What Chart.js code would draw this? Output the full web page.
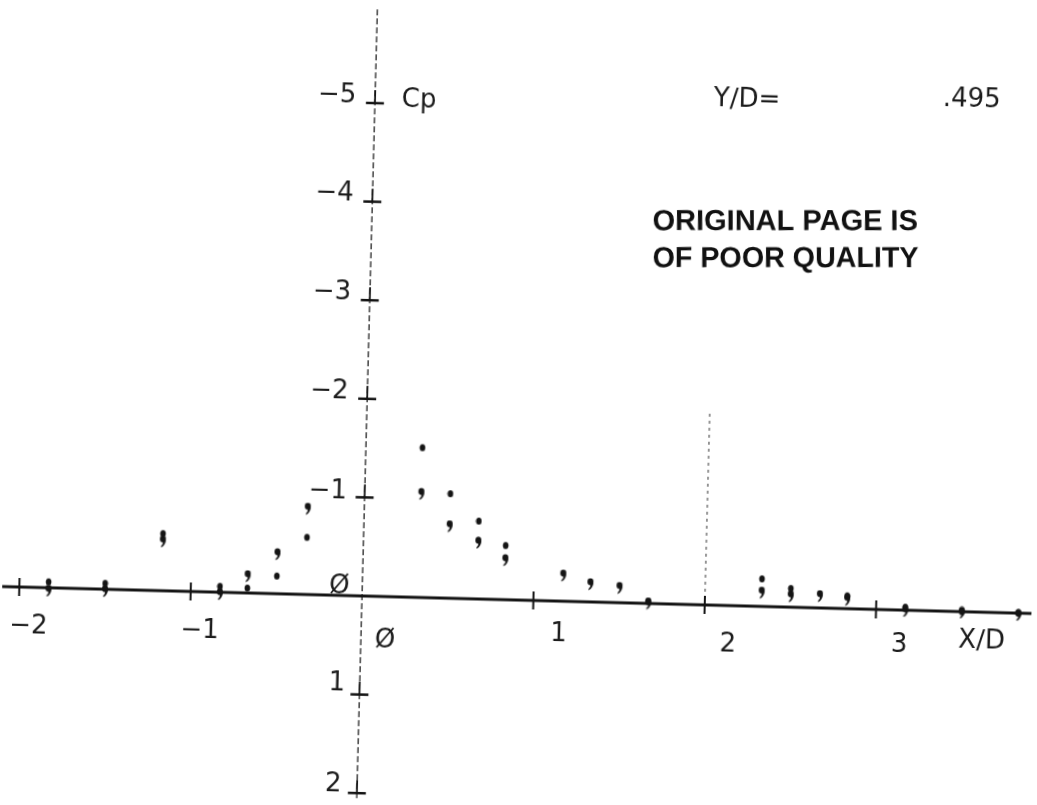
<!DOCTYPE html>
<html>
<head>
<meta charset="utf-8">
<script src="https://cdn.jsdelivr.net/npm/chart.js@4"></script>
<style>
    html, body { margin: 0; padding: 0; background: #fff; overflow: hidden; }
    #sheet {
        width: 1037px; height: 805px;
        transform: rotate(1.5deg);
        transform-origin: 518.5px 402.5px;
    }
    #sheet canvas { display: block; }
</style>
</head>
<body>
<div id="sheet"><canvas id="cpChart" width="1037" height="805"></canvas></div>
<script>
// X/D stations and Cp (two symbol sets: dots and commas)
const xValues  = [-1.83, -1.5, -1.17, -0.83, -0.67, -0.5, -0.33, 0.33, 0.5, 0.67, 0.83, 1.17, 1.33, 1.5, 1.67, 2.33, 2.5, 2.67, 2.83, 3.17, 3.5, 3.83];
const cpDots   = [-0.06, -0.06, -0.58, -0.06, -0.05, -0.18, -0.58, -1.52, -1.06, -0.79, -0.55, null, null, null, -0.02, -0.28, -0.19, null, -0.13, -0.03, 0.0, 0.0];
const cpCommas = [0.03, 0.02, -0.5, 0.02, -0.17, -0.4, -0.87, -1.05, -0.73, -0.57, -0.4, -0.26, -0.18, -0.15, 0.0, -0.14, -0.11, -0.12, -0.09, 0.01, 0.01, 0.02];

const xTicks = [-2, -1, 0, 1, 2, 3];
const xTickLabels = ['\u22122', '\u22121', '\u00d8', '1', '2', '3'];
const yTicks = [-5, -4, -3, -2, -1, 0, 1, 2];
const yTickLabels = ['\u22125', '\u22124', '\u22123', '\u22122', '\u22121', '\u00d8', '1', '2'];
const refLineX = 2;
const refLineCp = [-1.94, 0.08];
const yOverD = '.495';

const xRange = [-2.142, 3.908];
const cpRange = [-6.085, 2.079];

const INK = '#141414';

function toPoints(xs, ys) {
    const pts = [];
    xs.forEach((x, i) => { if (ys[i] !== null) pts.push({ x: x, y: ys[i] }); });
    return pts;
}

// plotter-like symbols
function makeDot() {
    const c = document.createElement('canvas');
    c.width = 7; c.height = 9;
    const g = c.getContext('2d');
    g.fillStyle = INK;
    g.beginPath();
    g.ellipse(3.5, 4.5, 2.8, 3.6, 0, 0, Math.PI * 2);
    g.fill();
    return c;
}

function makeComma() {
    const c = document.createElement('canvas');
    c.width = 8; c.height = 13;
    const g = c.getContext('2d');
    g.fillStyle = INK;
    g.beginPath();
    g.ellipse(4, 4, 3, 3.4, 0, 0, Math.PI * 2);
    g.fill();
    g.beginPath();
    g.moveTo(6.9, 4.5);
    g.quadraticCurveTo(7.2, 9.5, 2.6, 12.5);
    g.lineTo(2.2, 11.2);
    g.quadraticCurveTo(4.6, 9, 4.2, 6.5);
    g.closePath();
    g.fill();
    return c;
}

const axisDecor = {
    id: 'axisDecor',
    afterDatasetsDraw(chart) {
        const { ctx, scales: { x, y } } = chart;
        const x0 = x.getPixelForValue(0);
        const y0 = y.getPixelForValue(0);
        ctx.save();
        ctx.strokeStyle = INK;
        ctx.fillStyle = INK;

        // x ticks
        ctx.lineWidth = 2;
        xTicks.forEach(v => {
            if (v === 0) return;
            const px = x.getPixelForValue(v);
            ctx.beginPath();
            ctx.moveTo(px, y0 - 9);
            ctx.lineTo(px, y0 + 9);
            ctx.stroke();
        });

        // y ticks (plotter "⊥" marks)
        yTicks.forEach(v => {
            if (v === 0) return;
            const py = y.getPixelForValue(v);
            ctx.lineWidth = 2.5;
            ctx.beginPath();
            ctx.moveTo(x0 - 9, py);
            ctx.lineTo(x0 + 9, py);
            ctx.stroke();
            ctx.lineWidth = 1.8;
            ctx.beginPath();
            ctx.moveTo(x0, py - 13);
            ctx.lineTo(x0, py);
            ctx.stroke();
        });

        ctx.font = '26px "DejaVu Sans", sans-serif';
        ctx.textAlign = 'center';
        ctx.textBaseline = 'middle';
        ctx.fillStyle = '#1c1c1c';

        const xOff = [[10, 39], [10, 39], [24, 44], [26, 33], [24, 39], [24, 35]];
        xTicks.forEach((v, i) => {
            ctx.fillText(xTickLabels[i], x.getPixelForValue(v) + xOff[i][0], y0 + xOff[i][1]);
        });
        const yOff = [[-38, -7], [-38, -7], [-38, -7], [-38, -7], [-37, -5], [-23, -9], [-23, -10], [-24, -8]];
        yTicks.forEach((v, i) => {
            ctx.fillText(yTickLabels[i], x0 + yOff[i][0], y.getPixelForValue(v) + yOff[i][1]);
        });

        ctx.fillText('Cp', x0 + 44, y.getPixelForValue(-5) - 4);
        ctx.fillText('X\u2215D', x.getPixelForValue(3.62), y0 + 29);
        ctx.fillText('Y\u2215D=', x.getPixelForValue(2.17), y.getPixelForValue(-5.13));
        ctx.fillText(yOverD, x.getPixelForValue(3.48), y.getPixelForValue(-5.19));

        // stamped note, sits level on the page
        ctx.translate(x.getPixelForValue(2.41), y.getPixelForValue(-3.72));
        ctx.rotate(-1.5 * Math.PI / 180);
        ctx.font = 'bold 29px "Liberation Sans", Arial, sans-serif';
        ctx.textAlign = 'left';
        ctx.fillStyle = '#111';
        ctx.fillText('ORIGINAL PAGE IS', -132, -18, 266);
        ctx.fillText('OF POOR QUALITY', -132, 19, 266);
        ctx.restore();
    }
};

document.addEventListener('DOMContentLoaded', () => {
    const ctx = document.getElementById('cpChart').getContext('2d');
    new Chart(ctx, {
        type: 'scatter',
        data: {
            datasets: [
                {
                    label: 'dots',
                    data: toPoints(xValues, cpDots),
                    pointStyle: makeDot(),
                    pointRadius: 4
                },
                {
                    label: 'commas',
                    data: toPoints(xValues, cpCommas),
                    pointStyle: makeComma(),
                    pointRadius: 5
                },
                {
                    label: 'x axis',
                    data: [{ x: -2.1, y: 0 }, { x: 3.95, y: 0 }],
                    showLine: true,
                    borderColor: INK,
                    borderWidth: 3,
                    pointRadius: 0
                },
                {
                    label: 'y axis',
                    data: [{ x: 0, y: -5.95 }, { x: 0, y: 2.1 }],
                    showLine: true,
                    borderColor: '#333',
                    borderWidth: 1.4,
                    borderDash: [6, 3],
                    pointRadius: 0
                },
                {
                    label: 'X/D = 2',
                    data: [{ x: refLineX, y: refLineCp[0] }, { x: refLineX, y: refLineCp[1] }],
                    showLine: true,
                    borderColor: '#555',
                    borderWidth: 1.2,
                    borderDash: [3, 4],
                    pointRadius: 0
                }
            ]
        },
        options: {
            responsive: false,
            animation: false,
            events: [],
            layout: { padding: 0, autoPadding: false },
            scales: {
                x: { type: 'linear', min: xRange[0], max: xRange[1], display: false },
                y: { type: 'linear', min: cpRange[0], max: cpRange[1], reverse: true, display: false }
            },
            plugins: {
                legend: { display: false },
                tooltip: { enabled: false }
            }
        },
        plugins: [axisDecor]
    });
});
</script>
</body>
</html>
